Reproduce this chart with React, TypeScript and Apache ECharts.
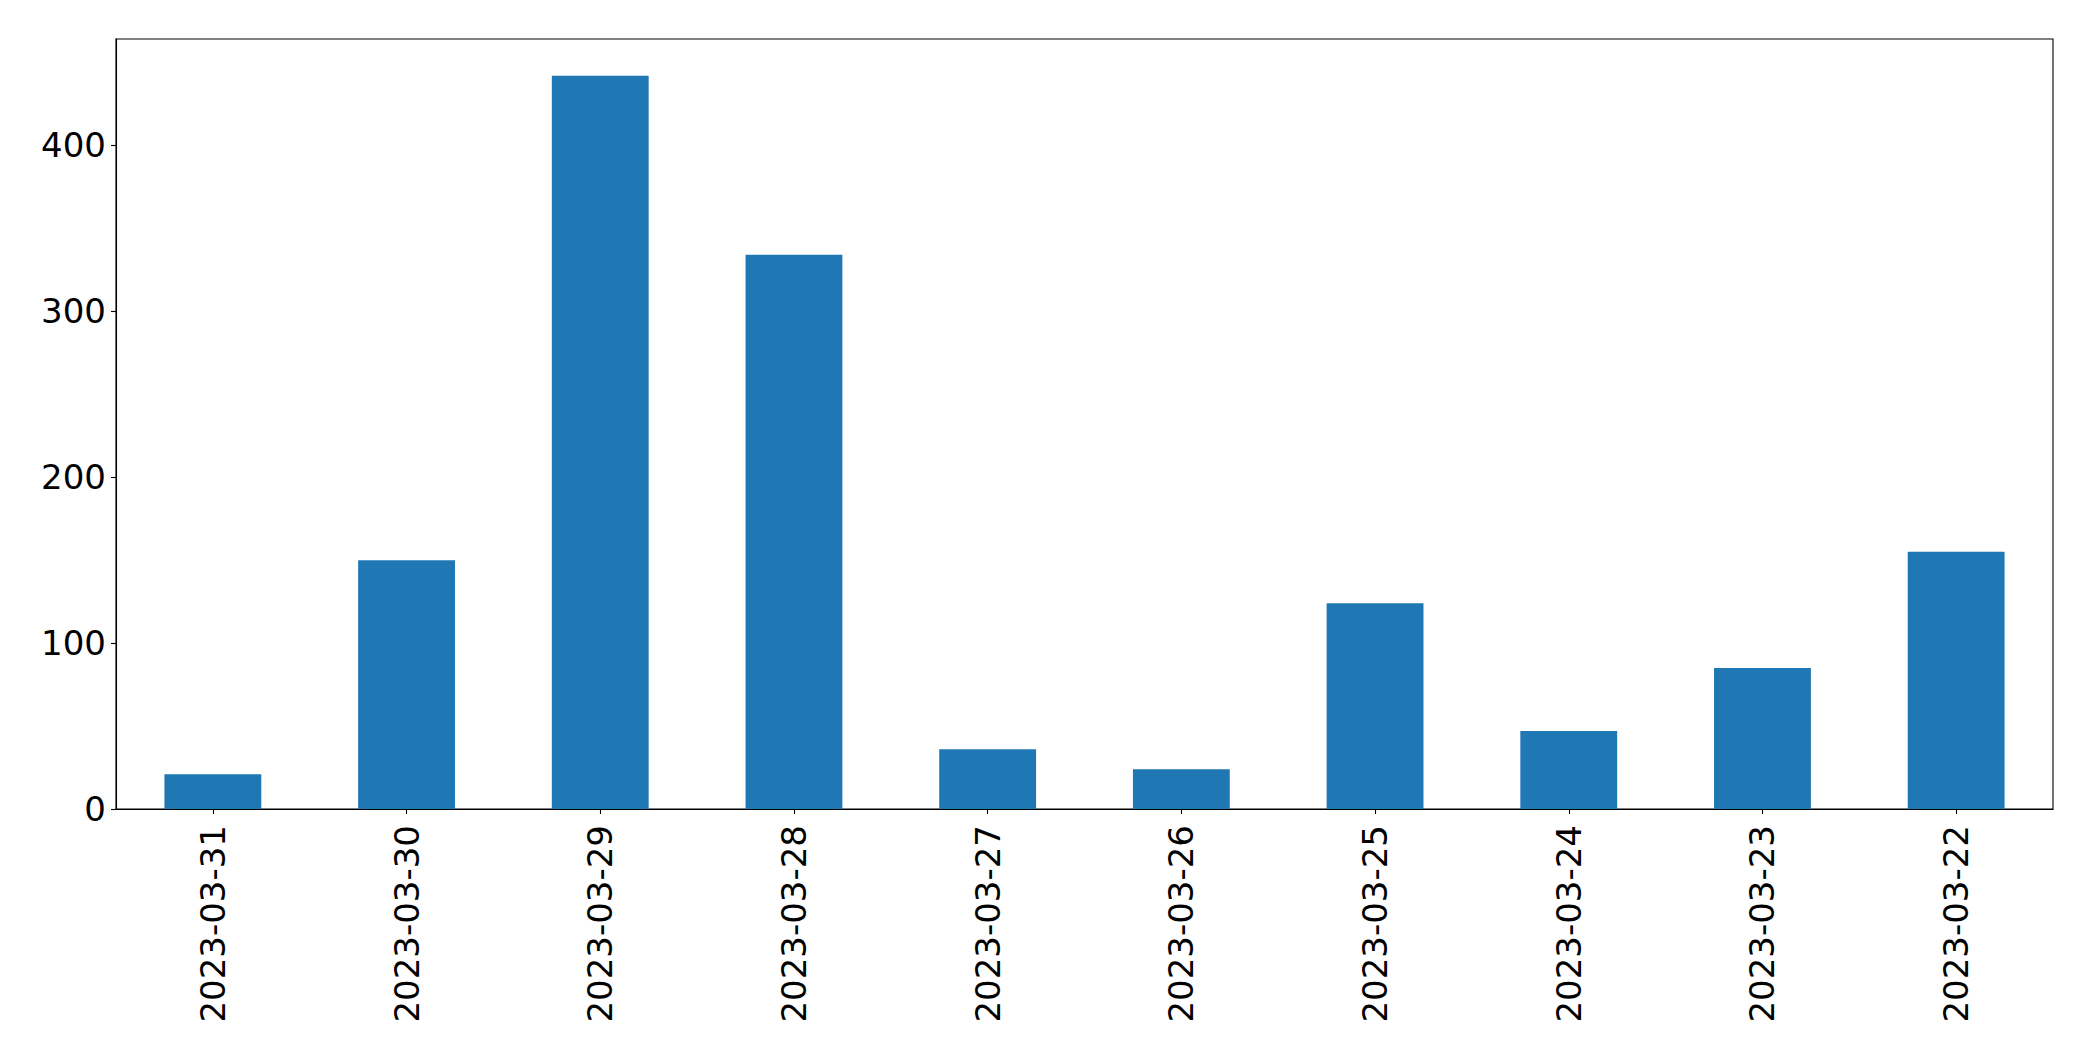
import React, { useEffect, useRef } from "react";
import * as echarts from "echarts";

const categories = [
  "2023-03-31",
  "2023-03-30",
  "2023-03-29",
  "2023-03-28",
  "2023-03-27",
  "2023-03-26",
  "2023-03-25",
  "2023-03-24",
  "2023-03-23",
  "2023-03-22",
];
const values = [21, 150, 442, 334, 36, 24, 124, 47, 85, 155];
const yTicks = [0, 100, 200, 300, 400];

export default function App() {
  const ref = useRef<HTMLDivElement>(null);
  useEffect(() => {
    if (!ref.current) return;
    const chart = echarts.init(ref.current, null, { renderer: "svg" });
    const font = "DejaVu Sans";
    const yMax = Math.max(...values) * 1.05;
    chart.setOption({
      animation: false,
      backgroundColor: "#ffffff",
      grid: {
        left: 116,
        right: 40,
        top: 39,
        bottom: 252,
        show: true,
        borderColor: "#000000",
        borderWidth: 1.1,
        backgroundColor: "transparent",
      },
      xAxis: {
        type: "category",
        data: categories,
        boundaryGap: true,
        axisLine: { show: true, lineStyle: { color: "#000000", width: 1.1 } },
        axisTick: {
          show: true,
          alignWithLabel: true,
          length: 5,
          lineStyle: { color: "#000000", width: 1.1 },
        },
        axisLabel: {
          interval: 0,
          rotate: 90,
          margin: 16,
          color: "#000000",
          fontFamily: font,
          fontSize: 34,
        },
        splitLine: { show: false },
      },
      yAxis: {
        type: "value",
        min: 0,
        max: yMax,
        interval: 100,
        axisLine: { show: true, lineStyle: { color: "#000000", width: 1.1 } },
        axisTick: {
          show: true,
          length: 5,
          customValues: yTicks,
          lineStyle: { color: "#000000", width: 1.1 },
        },
        axisLabel: {
          customValues: yTicks,
          margin: 10,
          color: "#000000",
          fontFamily: font,
          fontSize: 34,
        },
        splitLine: { show: false },
      },
      series: [
        {
          type: "bar",
          data: values,
          barWidth: "50%",
          itemStyle: { color: "#1f77b4" },
        },
      ],
    });
    return () => chart.dispose();
  }, []);
  return (
    <div
      ref={ref}
      style={{ position: "fixed", left: 0, top: 0, width: 2093, height: 1061 }}
    />
  );
}
